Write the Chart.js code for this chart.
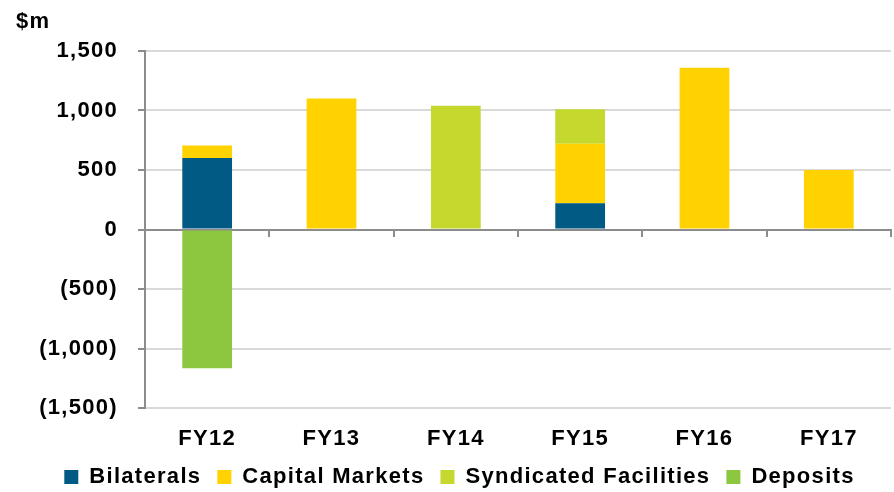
<!DOCTYPE html>
<html>
<head>
<meta charset="utf-8">
<script src="https://cdn.jsdelivr.net/npm/chart.js@4"></script>
<style>
  html, body { margin: 0; padding: 0; background: #fff; }
</style>
</head>
<body>
<canvas id="fundingChart" width="894" height="492"></canvas>
<script>
const years = ['FY12', 'FY13', 'FY14', 'FY15', 'FY16', 'FY17'];
const bilaterals = [600, 0, 0, 220, 0, 0];
const capitalMarkets = [105, 1100, 0, 500, 1360, 500];
const syndicated = [0, 0, 1040, 290, 0, 0];
const deposits = [-1165, 0, 0, 0, 0, 0];
const yTicks = [-1500, -1000, -500, 0, 500, 1000, 1500];

const FONT = { family: '"Liberation Sans", Arial, sans-serif', size: 22, weight: 'bold' };
const AXIS_GREY = '#8c8c8c';
const GRID_GREY = '#d9d9d9';

function fmt(v) {
  const s = Math.abs(v).toLocaleString('en-US');
  return v < 0 ? '(' + s + ')' : s;
}

// wide-ish lettering like the original
const spacing = {
  id: 'spacing',
  beforeUpdate(chart) { chart.ctx.letterSpacing = '1.3px'; },
  beforeDraw(chart) { chart.ctx.letterSpacing = '1.3px'; }
};

// squeeze the legend box and nudge it right, as in the original
const legendTweak = {
  id: 'legendTweak',
  afterInit(chart) {
    const lg = chart.legend;
    if (!lg) return;
    const fit = lg.fit;
    lg.fit = function () { fit.call(this); this.height = 42; };
  },
  afterLayout(chart) {
    const lg = chart.legend;
    if (!lg) return;
    lg.left += 14;
    lg.right += 14;
  }
};

const unitLabel = {
  id: 'unitLabel',
  afterDraw(chart) {
    const c = chart.ctx;
    c.save();
    c.font = 'bold 22px "Liberation Sans", Arial, sans-serif';
    c.fillStyle = '#000';
    c.textBaseline = 'middle';
    c.fillText('$m', 16, 22);
    c.restore();
  }
};

document.addEventListener('DOMContentLoaded', () => {
  const ctx = document.getElementById('fundingChart');
  new Chart(ctx, {
    type: 'bar',
    data: {
      labels: years,
      datasets: [
        { label: 'Bilaterals', data: bilaterals, backgroundColor: '#005a84' },
        { label: 'Capital Markets', data: capitalMarkets, backgroundColor: '#ffd200' },
        { label: 'Syndicated Facilities', data: syndicated, backgroundColor: '#c4d82e' },
        { label: 'Deposits', data: deposits, backgroundColor: '#8dc63f' }
      ]
    },
    options: {
      responsive: false,
      animation: false,
      barPercentage: 0.4,
      categoryPercentage: 1,
      layout: { padding: { top: 51, right: 3, bottom: 0, left: 0 } },
      plugins: {
        legend: {
          position: 'bottom',
          labels: {
            font: FONT, color: '#000',
            boxWidth: 14, boxHeight: 14, padding: 16
          }
        },
        tooltip: { enabled: false }
      },
      scales: {
        x: {
          stacked: true,
          grid: { display: false, drawTicks: false },
          border: { display: false },
          ticks: { font: FONT, color: '#000', padding: 18 },
          afterFit(scale) { scale.height = 42; }
        },
        zero: {
          type: 'category',
          axis: 'x',
          labels: years,
          position: { y: 0 },
          offset: true,
          grid: { offset: true, drawOnChartArea: false, tickLength: 6, color: AXIS_GREY, lineWidth: 2 },
          border: { color: AXIS_GREY, width: 2 },
          ticks: { display: false }
        },
        y: {
          stacked: true,
          min: -1500,
          max: 1500,
          afterBuildTicks(scale) { scale.ticks = yTicks.map(v => ({ value: v })); },
          afterFit(scale) { scale.width = 145; },
          grid: { color: GRID_GREY, lineWidth: 2, tickColor: AXIS_GREY, tickLength: 7 },
          border: { color: AXIS_GREY, width: 2 },
          ticks: { font: FONT, color: '#000', padding: 20, callback: v => fmt(v) }
        }
      }
    },
    plugins: [spacing, legendTweak, unitLabel]
  });
});
</script>
</body>
</html>
